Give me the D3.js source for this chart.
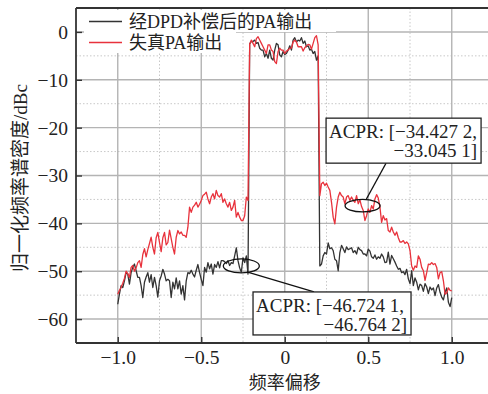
<!DOCTYPE html>
<html>
<head>
<meta charset="utf-8">
<script src="https://cdn.jsdelivr.net/npm/d3@7"></script>
<style>
  body { margin: 0; background: #fff; }
  svg { display: block; }
</style>
</head>
<body>
<div id="chart"></div>
<script>
// frequency offset grid, step 0.01 from -1 to 1
const freq = d3.range(201).map(i => +(-1 + i * 0.01).toFixed(2));

// 经DPD补偿后的PA输出 (dBc)
const dpdOut = [
  -56.9, -54.8, -53.0, -53.4, -52.0, -50.3, -50.6, -52.7, -50.3, -49.2,
  -48.5, -49.9, -51.3, -51.3, -53.0, -55.5, -52.3, -51.2, -50.3, -52.3,
  -50.7, -53.4, -51.3, -53.0, -55.4, -52.0, -51.0, -49.6, -50.6, -52.0,
  -51.7, -52.0, -55.5, -52.3, -53.7, -51.4, -53.7, -52.0, -54.8, -53.0,
  -56.0, -52.0, -50.3, -50.5, -49.8, -50.6, -51.2, -49.8, -48.6, -50.3,
  -51.7, -53.0, -49.2, -50.2, -48.2, -49.5, -48.5, -50.6, -48.6, -49.2,
  -48.0, -49.3, -47.8, -47.8, -48.0, -48.4, -47.8, -48.8, -48.2, -48.4,
  -46.8, -45.1, -47.8, -49.3, -50.2, -47.2, -48.2, -46.8, -50.6, -2.5,
  -2.0, -2.0, -1.7, -2.4, -2.2, -3.4, -3.8, -3.8, -5.2, -4.5,
  -5.5, -3.8, -5.5, -5.9, -3.8, -2.4, -2.7, -4.8, -5.2, -4.1,
  -4.7, -4.5, -3.8, -2.9, -3.8, -1.7, -1.2, -2.1, -1.7, -1.9,
  -1.2, -2.4, -1.9, -3.1, -2.9, -3.8, -3.6, -4.5, -4.1, -5.9,
  -5.0, -48.9, -48.5, -46.8, -46.1, -46.4, -44.1, -45.3, -45.1, -45.7,
  -47.5, -47.8, -49.9, -46.1, -44.6, -45.3, -46.1, -44.9, -45.5, -45.3,
  -45.1, -46.1, -45.7, -46.4, -45.0, -45.5, -45.7, -46.4, -46.4, -46.8,
  -45.4, -45.8, -47.0, -47.3, -46.6, -47.5, -47.0, -47.3, -46.4, -47.0,
  -48.2, -48.1, -46.0, -48.5, -46.7, -47.4, -48.1, -48.9, -49.6, -49.4,
  -50.3, -50.1, -50.7, -49.6, -51.6, -52.6, -49.9, -53.0, -51.4, -52.3,
  -53.9, -52.7, -53.0, -54.2, -52.6, -53.3, -54.7, -53.3, -53.9, -53.5,
  -55.1, -53.5, -52.8, -54.4, -55.4, -56.0, -54.4, -53.5, -56.5, -57.4,
  -55.5
];

// 失真PA输出 (dBc)
const paOut = [
  -54.8, -54.0, -53.4, -52.5, -51.5, -50.0, -50.5, -51.3, -49.2, -48.8,
  -50.0, -49.3, -48.2, -47.8, -49.2, -46.5, -45.3, -47.0, -45.5, -44.2,
  -42.9, -45.0, -46.4, -43.0, -41.9, -44.0, -45.9, -43.0, -41.9, -44.5,
  -44.0, -41.4, -43.2, -45.0, -46.4, -42.9, -41.5, -42.2, -41.8, -42.5,
  -42.5, -42.9, -40.8, -36.6, -37.7, -36.6, -36.2, -35.6, -36.6, -36.0,
  -35.2, -34.2, -33.9, -33.5, -34.9, -35.9, -34.5, -33.8, -34.9, -33.1,
  -34.2, -34.5, -33.8, -35.6, -34.9, -35.9, -36.6, -35.6, -37.3, -36.6,
  -35.2, -38.7, -37.7, -38.7, -39.4, -39.4, -38.4, -34.5, -35.2, -2.5,
  -1.7, -2.4, -3.1, -1.4, -1.0, -1.7, -2.4, -3.1, -3.8, -4.5,
  -2.7, -2.7, -3.8, -4.1, -6.2, -6.6, -4.1, -3.4, -3.8, -3.8,
  -4.5, -4.0, -3.8, -3.4, -3.4, -2.1, -1.7, -2.1, -3.1, -3.1,
  -3.1, -4.0, -3.3, -2.9, -2.6, -2.7, -3.6, -2.4, -1.2, -0.8,
  -2.7, -34.2, -31.7, -31.4, -32.1, -31.6, -32.4, -33.1, -35.6, -38.7,
  -40.1, -36.6, -34.5, -33.5, -34.2, -34.5, -35.9, -34.5, -34.2, -35.2,
  -34.5, -35.2, -35.6, -34.2, -35.9, -35.1, -36.5, -37.3, -39.4, -38.4,
  -37.0, -37.7, -36.3, -37.0, -34.9, -34.0, -34.7, -36.6, -39.8, -38.4,
  -39.3, -39.0, -41.5, -41.8, -40.8, -41.8, -42.5, -41.8, -43.0, -43.9,
  -43.9, -43.6, -44.2, -43.9, -44.3, -45.7, -48.9, -49.8, -48.9, -49.2,
  -46.8, -47.5, -49.2, -49.9, -51.9, -50.3, -48.5, -48.6, -48.2, -48.6,
  -48.4, -49.2, -51.6, -50.3, -50.1, -52.0, -54.8, -54.5, -53.5, -54.0,
  -54.1
];

const xTicks = [-1, -0.5, 0, 0.5, 1];
const xTickLabels = ["−1.0", "−0.5", "0", "0.5", "1.0"];
const xMinor = [-0.75, -0.25, 0.25, 0.75];
const yTicks = [0, -10, -20, -30, -40, -50, -60];
const yTickLabels = ["0", "−10", "−20", "−30", "−40", "−50", "−60"];
const yMinor = [-5, -15, -25, -35, -45, -55];
const seriesNames = ["经DPD补偿后的PA输出", "失真PA输出"];
const acprPA = ["ACPR: [−34.427 2,", "−33.045 1]"];
const acprDPD = ["ACPR: [−46.724 1,", "−46.764 2]"];

const width = 488, height = 394;
const plotLeft = 76, plotTop = 8, plotBottom = 343;

const x = d3.scaleLinear().domain([-1.25, 1.25]).range([plotLeft, plotLeft + 417.5]);
const y = d3.scaleLinear().domain([-65, 5]).range([plotBottom, plotTop]);

const serif = "'Liberation Serif', 'Times New Roman', serif";
const mixed = "'Liberation Serif', 'Noto Sans CJK SC', serif";
const cjk = "'Noto Sans CJK SC', sans-serif";

const svg = d3.select("#chart").append("svg")
  .attr("width", width)
  .attr("height", height);

svg.append("rect").attr("width", width).attr("height", height).attr("fill", "#fff");

svg.append("defs").append("clipPath").attr("id", "plot")
  .append("rect")
  .attr("x", plotLeft).attr("y", plotTop)
  .attr("width", width - plotLeft).attr("height", plotBottom - plotTop);

// grid
const grid = svg.append("g");
grid.selectAll(".xm").data(xMinor).enter().append("line")
  .attr("x1", d => x(d)).attr("x2", d => x(d))
  .attr("y1", plotTop).attr("y2", plotBottom)
  .attr("stroke", "#c8c8c8").attr("stroke-width", 1).attr("stroke-dasharray", "1.5,2");
grid.selectAll(".ym").data(yMinor).enter().append("line")
  .attr("x1", plotLeft).attr("x2", width)
  .attr("y1", d => y(d)).attr("y2", d => y(d))
  .attr("stroke", "#c8c8c8").attr("stroke-width", 1).attr("stroke-dasharray", "1.5,2");
grid.selectAll(".xM").data(xTicks).enter().append("line")
  .attr("x1", d => x(d)).attr("x2", d => x(d))
  .attr("y1", plotTop).attr("y2", plotBottom)
  .attr("stroke", "#b4b4b4").attr("stroke-width", 1.4);
grid.selectAll(".yM").data(yTicks).enter().append("line")
  .attr("x1", plotLeft).attr("x2", width)
  .attr("y1", d => y(d)).attr("y2", d => y(d))
  .attr("stroke", "#b4b4b4").attr("stroke-width", 1.4);

// curves
const line = d3.line()
  .x((d, i) => x(freq[i]))
  .y(d => y(d));

const curves = svg.append("g").attr("clip-path", "url(#plot)");
curves.append("path").datum(dpdOut)
  .attr("d", line).attr("fill", "none")
  .attr("stroke", "#333").attr("stroke-width", 1.3).attr("stroke-linejoin", "round");
curves.append("path").datum(paOut)
  .attr("d", line).attr("fill", "none")
  .attr("stroke", "#e8323c").attr("stroke-width", 1.3).attr("stroke-linejoin", "round");

// frame
const frame = svg.append("g").attr("stroke", "#333").attr("stroke-width", 1.8);
frame.append("line").attr("x1", plotLeft).attr("x2", plotLeft).attr("y1", plotTop).attr("y2", plotBottom);
frame.append("line").attr("x1", plotLeft).attr("x2", width).attr("y1", plotBottom).attr("y2", plotBottom);
frame.append("line").attr("x1", plotLeft).attr("x2", width).attr("y1", plotTop).attr("y2", plotTop);

// axes, ticks pointing inward
const xAxis = svg.append("g")
  .attr("transform", `translate(0,${plotBottom})`)
  .call(d3.axisBottom(x).tickValues(xTicks).tickSizeInner(-6).tickSizeOuter(0)
    .tickFormat((d, i) => xTickLabels[i]));
const yAxis = svg.append("g")
  .attr("transform", `translate(${plotLeft},0)`)
  .call(d3.axisLeft(y).tickValues(yTicks).tickSizeInner(-6).tickSizeOuter(0)
    .tickFormat((d, i) => yTickLabels[i]));
[xAxis, yAxis].forEach(a => {
  a.select(".domain").remove();
  a.selectAll(".tick line").attr("stroke", "#333").attr("stroke-width", 1.4);
  a.selectAll("text").attr("font-family", serif).attr("font-size", 19.5).attr("fill", "#222");
});
xAxis.selectAll("text").attr("dy", null).attr("y", 21);
yAxis.selectAll("text").attr("x", -8).attr("dy", "0.33em");

// axis titles
svg.append("text")
  .attr("x", x(0)).attr("y", 389)
  .attr("text-anchor", "middle")
  .attr("font-family", cjk).attr("font-size", 18).attr("fill", "#222")
  .text("频率偏移");
svg.append("text")
  .attr("transform", "translate(27,178) rotate(-90)")
  .attr("text-anchor", "middle")
  .attr("font-family", mixed).attr("font-size", 19).attr("fill", "#222")
  .text("归一化频率谱密度/dBc");

// legend
const legend = svg.append("g");
const legendColors = ["#333", "#e8323c"];
const legendBg = [[84, 10, 252, 22], [84, 32, 152, 21]];
seriesNames.forEach((name, i) => {
  const cy = 21.5 + i * 21;
  legend.append("rect")
    .attr("x", legendBg[i][0]).attr("y", legendBg[i][1])
    .attr("width", legendBg[i][2]).attr("height", legendBg[i][3])
    .attr("fill", "#fff");
  legend.append("line")
    .attr("x1", 89).attr("x2", 122).attr("y1", cy).attr("y2", cy)
    .attr("stroke", legendColors[i]).attr("stroke-width", 1.3);
  legend.append("text")
    .attr("x", 129).attr("y", cy + 6)
    .attr("font-family", mixed).attr("font-size", 18).attr("fill", "#222")
    .text(name);
});

// ACPR annotations
function annotate(cx, cy, rx, ry, box, lead, lines) {
  const px = x(cx), py = y(cy);
  const g = svg.append("g");
  g.append("ellipse")
    .attr("cx", px).attr("cy", py).attr("rx", rx).attr("ry", ry)
    .attr("fill", "none").attr("stroke", "#111").attr("stroke-width", 1.3);
  g.append("line")
    .attr("x1", px + lead[0]).attr("y1", py + lead[1])
    .attr("x2", px + lead[2]).attr("y2", py + lead[3])
    .attr("stroke", "#111").attr("stroke-width", 1.2);
  const bx = px + box[0], by = py + box[1];
  g.append("rect")
    .attr("x", bx).attr("y", by).attr("width", box[2]).attr("height", box[3])
    .attr("fill", "#fff").attr("stroke", "#222").attr("stroke-width", 1.3);
  g.append("text")
    .attr("x", bx + 3).attr("y", by + 20)
    .attr("font-family", serif).attr("font-size", 19).attr("fill", "#222")
    .text(lines[0]);
  g.append("text")
    .attr("x", bx + box[2] - 4).attr("y", by + 39)
    .attr("text-anchor", "end")
    .attr("font-family", serif).attr("font-size", 19).attr("fill", "#222")
    .text(lines[1]);
}

annotate(0.466, -36.3, 17.5, 6.2, [-36.5, -87.5, 155, 45], [3.5, -6, 23.5, -42.5], acprPA);
annotate(-0.26, -48.9, 18, 7, [11.7, 26, 158, 43], [5.5, 6, 72.7, 26], acprDPD);
</script>
</body>
</html>
